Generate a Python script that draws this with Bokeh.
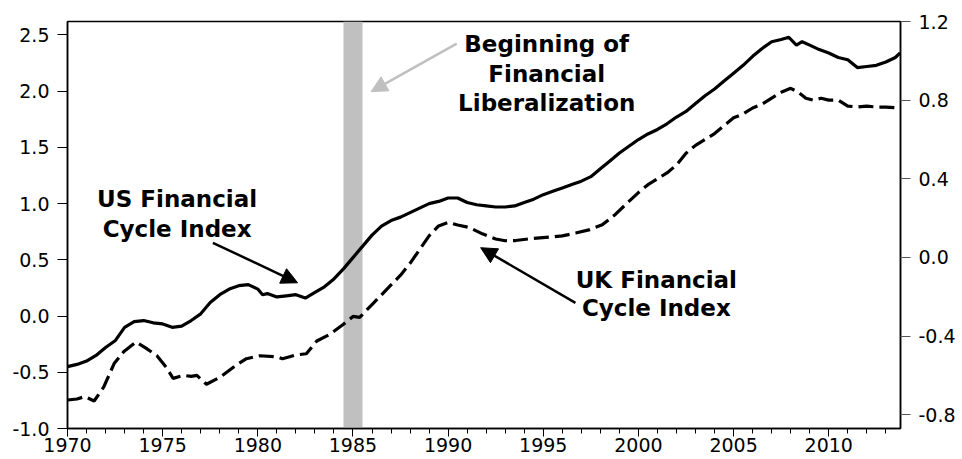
from bokeh.plotting import figure
from bokeh.models import (Range1d, LinearAxis, FixedTicker, NumeralTickFormatter,
                          BoxAnnotation, Label, Arrow, NormalHead)
from bokeh.embed import file_html
from bokeh.resources import INLINE

# ---------------- data ----------------
us_year = [1970.0, 1970.5, 1971.0, 1971.5, 1972.0, 1972.5, 1973.0, 1973.5, 1974.0, 1974.5,
           1975.0, 1975.5, 1976.0, 1976.5, 1977.0, 1977.5, 1978.0, 1978.5, 1979.0, 1979.5,
           1980.0, 1980.25, 1980.5, 1981.0, 1981.5, 1982.0, 1982.5, 1983.0, 1983.5, 1984.0,
           1984.5, 1985.0, 1985.5, 1986.0, 1986.5, 1987.0, 1987.5, 1988.0, 1988.5, 1989.0,
           1989.5, 1990.0, 1990.5, 1991.0, 1991.5, 1992.0, 1992.5, 1993.0, 1993.5, 1994.0,
           1994.5, 1995.0, 1995.5, 1996.0, 1996.5, 1997.0, 1997.5, 1998.0, 1998.5, 1999.0,
           1999.5, 2000.0, 2000.5, 2001.0, 2001.5, 2002.0, 2002.5, 2003.0, 2003.5, 2004.0,
           2004.5, 2005.0, 2005.5, 2006.0, 2006.5, 2007.0, 2007.5, 2007.9, 2008.3, 2008.6,
           2009.0, 2009.5, 2010.0, 2010.5, 2011.0, 2011.5, 2012.0, 2012.5, 2013.0, 2013.5,
           2013.75]
us_value = [-0.45, -0.43, -0.40, -0.35, -0.28, -0.22, -0.10, -0.05, -0.04, -0.06,
            -0.07, -0.10, -0.09, -0.04, 0.02, 0.12, 0.19, 0.24, 0.27, 0.28,
            0.24, 0.19, 0.20, 0.17, 0.18, 0.19, 0.16, 0.21, 0.26, 0.33,
            0.42, 0.52, 0.62, 0.72, 0.80, 0.85, 0.88, 0.92, 0.96, 1.00,
            1.02, 1.05, 1.05, 1.01, 0.99, 0.98, 0.97, 0.97, 0.98, 1.01,
            1.04, 1.08, 1.11, 1.14, 1.17, 1.20, 1.24, 1.31, 1.38, 1.45,
            1.51, 1.57, 1.62, 1.66, 1.71, 1.77, 1.82, 1.89, 1.96, 2.02,
            2.09, 2.16, 2.23, 2.31, 2.38, 2.44, 2.46, 2.48, 2.41, 2.44,
            2.41, 2.37, 2.34, 2.30, 2.28, 2.21, 2.22, 2.23, 2.26, 2.30,
            2.34]

uk_year = [1970.0, 1970.5, 1970.9, 1971.4, 1971.9, 1972.45, 1972.95, 1973.6, 1974.1, 1974.7,
           1975.2, 1975.55, 1976.1, 1976.5, 1976.8, 1977.3, 1978.0, 1978.9, 1979.4, 1980.1,
           1981.0, 1981.3, 1982.0, 1982.55, 1983.1, 1983.8, 1984.5, 1985.0, 1985.35, 1986.0,
           1986.5, 1987.0, 1987.5, 1988.0, 1988.5, 1989.0, 1989.5, 1990.0, 1990.5, 1991.1,
           1991.8, 1992.5, 1993.0, 1993.55, 1994.3, 1995.3, 1996.0, 1996.7, 1997.4, 1998.1,
           1998.8, 1999.5, 2000.0, 2000.5, 2001.0, 2001.5, 2002.0, 2002.5, 2003.0, 2003.5,
           2004.0, 2004.5, 2005.0, 2005.5, 2006.0, 2006.5, 2007.0, 2007.5, 2008.0, 2008.4,
           2008.8, 2009.2, 2009.6, 2010.0, 2010.5, 2011.0, 2011.5, 2012.0, 2012.5, 2013.0,
           2013.75]
uk_value = [-0.725, -0.72, -0.708, -0.73, -0.66, -0.54, -0.48, -0.43, -0.46, -0.50,
            -0.56, -0.615, -0.60, -0.605, -0.60, -0.645, -0.61, -0.545, -0.515, -0.50,
            -0.505, -0.515, -0.496, -0.49, -0.425, -0.39, -0.34, -0.30, -0.305, -0.24,
            -0.19, -0.14, -0.09, -0.03, 0.04, 0.11, 0.16, 0.178, 0.165, 0.153,
            0.12, 0.094, 0.085, 0.086, 0.095, 0.103, 0.11, 0.124, 0.14, 0.166,
            0.22, 0.285, 0.33, 0.37, 0.40, 0.43, 0.47, 0.53, 0.57, 0.60,
            0.63, 0.67, 0.71, 0.73, 0.76, 0.78, 0.81, 0.84, 0.86, 0.84,
            0.81, 0.80, 0.81, 0.80, 0.80, 0.77, 0.765, 0.77, 0.765, 0.765,
            0.76]

x_major_ticks = [1970, 1975, 1980, 1985, 1990, 1995, 2000, 2005, 2010]
x_minor_ticks = list(range(1970, 2014))
left_ticks = [-1.0, -0.5, 0.0, 0.5, 1.0, 1.5, 2.0, 2.5]
right_ticks = [-0.8, -0.4, 0.0, 0.4, 0.8, 1.2]
liberalization_start = 1984.5
liberalization_end = 1985.5

FONT = "DejaVu Sans"

p = figure(width=958, height=459, output_backend="svg", toolbar_location=None,
           x_range=Range1d(1970, 2013.77), y_range=Range1d(-1.0, 2.62),
           min_border_left=67, min_border_top=21, min_border_right=55, min_border_bottom=31,
           background_fill_color="white", border_fill_color="white")
p.extra_y_ranges = {"uk": Range1d(-0.87, 1.2)}
p.grid.visible = False
p.outline_line_color = "black"
p.outline_line_width = 1.5

# x axis
xa = p.xaxis[0]
xa.ticker = FixedTicker(ticks=x_major_ticks, minor_ticks=x_minor_ticks)
xa.major_tick_out = 8
xa.major_tick_in = 0
xa.minor_tick_out = 5
xa.minor_tick_in = 0
xa.major_label_standoff = 1
xa.major_label_text_font = FONT
xa.major_label_text_font_size = "19px"
xa.major_label_text_color = "black"
xa.axis_line_color = "black"
xa.axis_line_width = 1.5
xa.major_tick_line_color = "black"
xa.minor_tick_line_color = "black"

# left axis
ya = p.yaxis[0]
ya.ticker = FixedTicker(ticks=left_ticks)
ya.formatter = NumeralTickFormatter(format="0.0")
ya.major_tick_out = 10
ya.major_tick_in = 0
ya.minor_tick_line_color = None
ya.major_label_standoff = 8
ya.major_label_text_font = FONT
ya.major_label_text_font_size = "19px"
ya.major_label_text_color = "black"
ya.axis_line_color = "black"
ya.axis_line_width = 1.5

# right axis
ra = LinearAxis(y_range_name="uk", ticker=FixedTicker(ticks=right_ticks),
                formatter=NumeralTickFormatter(format="0.0"))
ra.major_tick_out = 10
ra.major_tick_in = 0
ra.minor_tick_line_color = None
ra.major_label_standoff = 8
ra.major_label_text_font = FONT
ra.major_label_text_font_size = "19px"
ra.major_label_text_color = "black"
ra.axis_line_color = "black"
ra.axis_line_width = 1.5
ra.major_tick_line_color = "#555555"
p.add_layout(ra, "right")

# liberalization band
p.add_layout(BoxAnnotation(left=liberalization_start, right=liberalization_end,
                           fill_color="#c0c0c0", fill_alpha=1.0, line_color=None,
                           level="underlay"))

# series
p.line(us_year, us_value, line_color="black", line_width=3.2)
p.line(uk_year, uk_value, line_color="black", line_width=3.2, line_dash="15 6",
       y_range_name="uk")

# annotations
def add_text(x, y, txt):
    p.add_layout(Label(x=x, y=y, text=txt, text_font=FONT, text_font_style="bold",
                       text_font_size="23px", text_color="black",
                       text_align="center", text_baseline="middle"))

add_text(1995.18, 2.424, "Beginning of")
add_text(1995.18, 2.157, "Financial")
add_text(1995.18, 1.891, "Liberalization")
add_text(1975.76, 1.041, "US Financial")
add_text(1975.76, 0.774, "Cycle Index")
add_text(2000.94, 0.320, "UK Financial")
add_text(2000.94, 0.071, "Cycle Index")

p.add_layout(Arrow(x_start=1990.45, y_start=2.423, x_end=1985.95, y_end=1.996,
                   line_color="#c0c0c0", line_width=2.5,
                   end=NormalHead(size=16, fill_color="#c0c0c0", line_color="#c0c0c0")))
p.add_layout(Arrow(x_start=1977.64, y_start=0.652, x_end=1982.09, y_end=0.296,
                   line_color="black", line_width=2.5,
                   end=NormalHead(size=16, fill_color="black", line_color="black")))
p.add_layout(Arrow(x_start=1996.69, y_start=0.118, x_end=1991.71, y_end=0.608,
                   line_color="black", line_width=2.5,
                   end=NormalHead(size=16, fill_color="black", line_color="black")))

open("out.html", "w").write(file_html(p, INLINE))
